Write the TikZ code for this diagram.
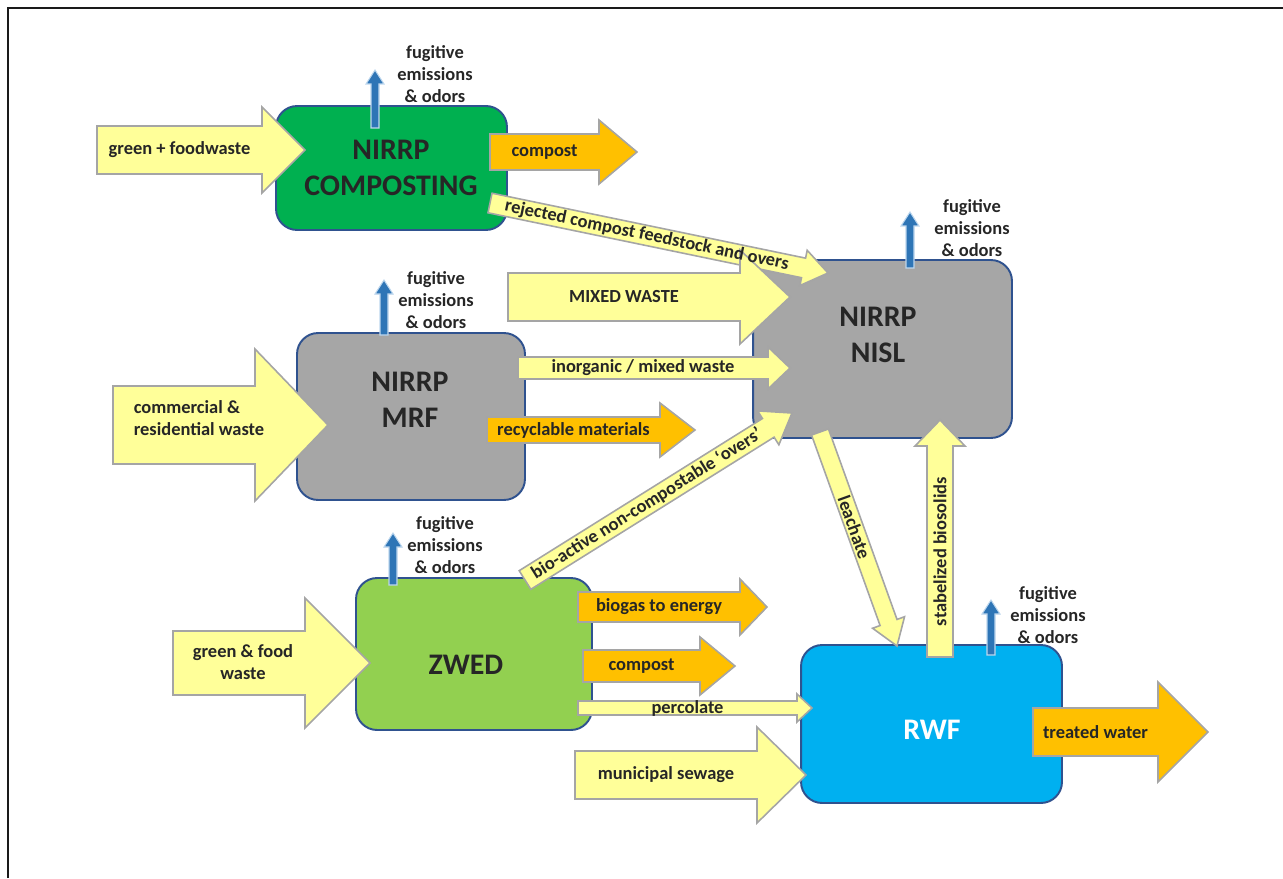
\documentclass[tikz,border=0pt]{standalone}
\usepackage{fontspec}
\setmainfont{Carlito}
\usepackage{xcolor}
\usepackage{tikz}
\usetikzlibrary{calc}
\definecolor{ink}{HTML}{262626}
\definecolor{frameln}{HTML}{1A1A1A}
\definecolor{boxline}{HTML}{2F528F}
\definecolor{compgreen}{HTML}{00B050}
\definecolor{zwedgreen}{HTML}{92D050}
\definecolor{unitgray}{HTML}{A6A6A6}
\definecolor{rwfblue}{HTML}{00B0F0}
\definecolor{paleyel}{HTML}{FFFF99}
\definecolor{amber}{HTML}{FFC000}
\definecolor{arrline}{HTML}{A5A5A5}
\definecolor{gasblue}{HTML}{2E75B6}
\definecolor{gasline}{HTML}{BDD7EE}
\tikzset{
  frameLine/.style={draw=frameln, line width=1.4pt},
  unitBox/.style={draw=boxline, line width=1.1pt, rounded corners=12pt, inner sep=0pt},
  boxTxt/.style={font=\fontsize{17}{20.4}\selectfont\bfseries, text=ink, align=center},
  inArrow/.style={fill=paleyel, draw=arrline, line width=0.9pt},
  outArrow/.style={fill=amber, draw=arrline, line width=0.9pt},
  gasArrow/.style={fill=gasblue, draw=gasline, line width=0.6pt},
  flowLbl/.style={font=\fontsize{10.5}{12.5}\selectfont\bfseries, text=ink, inner sep=0pt},
  fugLbl/.style={flowLbl, align=center},
}
% block arrow: style, tail, tip, body half width, head half width, head length (px)
\newcommand{\blockarrow}[6]{%
  \coordinate (#3-b) at ($(#3)!#6*0.02cm!(#2)$);
  \draw[#1] ($(#2)!#4*0.02cm!90:(#3)$) -- ($(#3-b)!#4*0.02cm!90:(#3)$)
    -- ($(#3-b)!#5*0.02cm!90:(#3)$) -- (#3)
    -- ($(#3-b)!#5*0.02cm!-90:(#3)$) -- ($(#3-b)!#4*0.02cm!-90:(#3)$)
    -- ($(#2)!#4*0.02cm!-90:(#3)$) -- cycle;
}
\newcommand{\flowlabel}[4]{%
  \path (#1) -- (#2-b) node[flowLbl, midway, sloped, #3] {#4};
}
\begin{document}
\begin{tikzpicture}[x=0.02cm, y=-0.02cm]
  \useasboundingbox (0,0) rectangle (1283,878);
  \draw[frameLine] (8,878) -- (8,8) -- (1283,8);

  % units
  \node[unitBox, fill=compgreen, minimum width=4.62cm, minimum height=2.48cm] (comp) at (391.5,168) {};
  \node[unitBox, fill=unitgray, minimum width=5.18cm, minimum height=3.56cm] (nisl) at (882.5,349) {};
  \node[unitBox, fill=unitgray, minimum width=4.56cm, minimum height=3.34cm] (mrf) at (411,416.5) {};
  \node[unitBox, fill=zwedgreen, minimum width=4.72cm, minimum height=3.04cm] (zwed) at (474,654) {};
  \node[unitBox, fill=rwfblue, minimum width=5.22cm, minimum height=3.16cm] (rwf) at (931.5,724) {};

  % composting
  \coordinate (gfw-t) at (97,150);   \coordinate (gfw) at (305,150);
  \coordinate (cmp-t) at (490,152);  \coordinate (cmp) at (637,152);
  \coordinate (rej-t) at (490,203);  \coordinate (rej) at (828,273);
  \blockarrow{inArrow}{gfw-t}{gfw}{24}{43}{43}
  \blockarrow{outArrow}{cmp-t}{cmp}{18}{32}{38}
  \blockarrow{inArrow}{rej-t}{rej}{10}{18}{25}

  % mrf and nisl
  \coordinate (mix-t) at (508,297);  \coordinate (mix) at (790,297);
  \coordinate (ino-t) at (518,368);  \coordinate (ino) at (790,368);
  \coordinate (rcy-t) at (487,430);  \coordinate (rcy) at (695,430);
  \coordinate (com-t) at (113,425);  \coordinate (com) at (328,425);
  \blockarrow{inArrow}{mix-t}{mix}{24}{47}{50}
  \blockarrow{inArrow}{ino-t}{ino}{11}{21}{22}
  \blockarrow{outArrow}{rcy-t}{rcy}{13}{27}{35}
  \blockarrow{inArrow}{com-t}{com}{39}{76}{73}

  % zwed
  \coordinate (bio-t) at (525,580);  \coordinate (bio) at (792,413);
  \coordinate (bgs-t) at (578,607);  \coordinate (bgs) at (767,607);
  \coordinate (zcp-t) at (583,666);  \coordinate (zcp) at (735,666);
  \coordinate (prc-t) at (578,708);  \coordinate (prc) at (812,708);
  \coordinate (gfz-t) at (173,663);  \coordinate (gfz) at (370,663);
  \blockarrow{inArrow}{bio-t}{bio}{11}{20}{28}
  \blockarrow{outArrow}{bgs-t}{bgs}{15}{28}{27}
  \blockarrow{outArrow}{zcp-t}{zcp}{16}{29}{35}
  \blockarrow{inArrow}{prc-t}{prc}{7}{14}{15}
  \blockarrow{inArrow}{gfz-t}{gfz}{32}{65}{65}

  % rwf
  \coordinate (lea-t) at (820,432);  \coordinate (lea) at (897,646);
  \coordinate (bsd-t) at (940,657);  \coordinate (bsd) at (940,420);
  \coordinate (sew-t) at (575,775);  \coordinate (sew) at (806,775);
  \coordinate (trw-t) at (1033,732); \coordinate (trw) at (1208,732);
  \blockarrow{inArrow}{lea-t}{lea}{9}{17}{25}
  \blockarrow{inArrow}{bsd-t}{bsd}{13}{25}{26}
  \blockarrow{inArrow}{sew-t}{sew}{24}{48}{49}
  \blockarrow{outArrow}{trw-t}{trw}{24}{50}{50}

  % fugitive emissions
  \coordinate (fc-t) at (375,128);  \coordinate (fc) at (375,70);
  \coordinate (fn-t) at (910,268);  \coordinate (fn) at (910,212);
  \coordinate (fm-t) at (384,335);  \coordinate (fm) at (384,280);
  \coordinate (fz-t) at (393,585);  \coordinate (fz) at (393,533);
  \coordinate (fr-t) at (991,655);  \coordinate (fr) at (991,600);
  \foreach \f in {fc,fn,fm,fz,fr}{
    \blockarrow{gasArrow}{\f-t}{\f}{4}{9}{14}
  }
  \node[fugLbl] (fc-lbl) at (435,74)  {fugitive\\emissions\\\& odors};
  \node[fugLbl] (fn-lbl) at (972,228) {fugitive\\emissions\\\& odors};
  \node[fugLbl] (fm-lbl) at (436,300) {fugitive\\emissions\\\& odors};
  \node[fugLbl] (fz-lbl) at (445,545) {fugitive\\emissions\\\& odors};
  \node[fugLbl] (fr-lbl) at (1048,615) {fugitive\\emissions\\\& odors};

  % unit names
  \node[boxTxt] (comp-lbl) at (391,168) {NIRRP\\COMPOSTING};
  \node[boxTxt] (nisl-lbl) at (878,335) {NIRRP\\NISL};
  \node[boxTxt] (mrf-lbl) at (410,400) {NIRRP\\MRF};
  \node[boxTxt] (zwed-lbl) at (466,665) {ZWED};
  \node[boxTxt, text=white] (rwf-lbl) at (932,730) {RWF};

  % flow names
  \flowlabel{gfw-t}{gfw}{}{green + foodwaste}
  \flowlabel{cmp-t}{cmp}{}{compost}
  \flowlabel{rej-t}{rej}{}{rejected compost feedstock and overs}
  \flowlabel{mix-t}{mix}{}{MIXED WASTE}
  \flowlabel{ino-t}{ino}{}{inorganic / mixed waste}
  \flowlabel{rcy-t}{rcy}{}{recyclable materials}
  \node[flowLbl, align=left] (com-lbl) at (199,418) {commercial \&\\residential waste};
  \flowlabel{bio-t}{bio}{}{bio-active non-compostable `overs'}
  \flowlabel{bgs-t}{bgs}{}{biogas to energy}
  \flowlabel{zcp-t}{zcp}{}{compost}
  \flowlabel{prc-t}{prc}{}{percolate}
  \node[flowLbl, align=center] (gfz-lbl) at (243,662) {green \& food\\waste};
  \flowlabel{lea-t}{lea}{}{leachate}
  \flowlabel{bsd-t}{bsd}{}{stabelized biosolids}
  \flowlabel{sew-t}{sew}{}{municipal sewage}
  \flowlabel{trw-t}{trw}{}{treated water}
\end{tikzpicture}
\end{document}
